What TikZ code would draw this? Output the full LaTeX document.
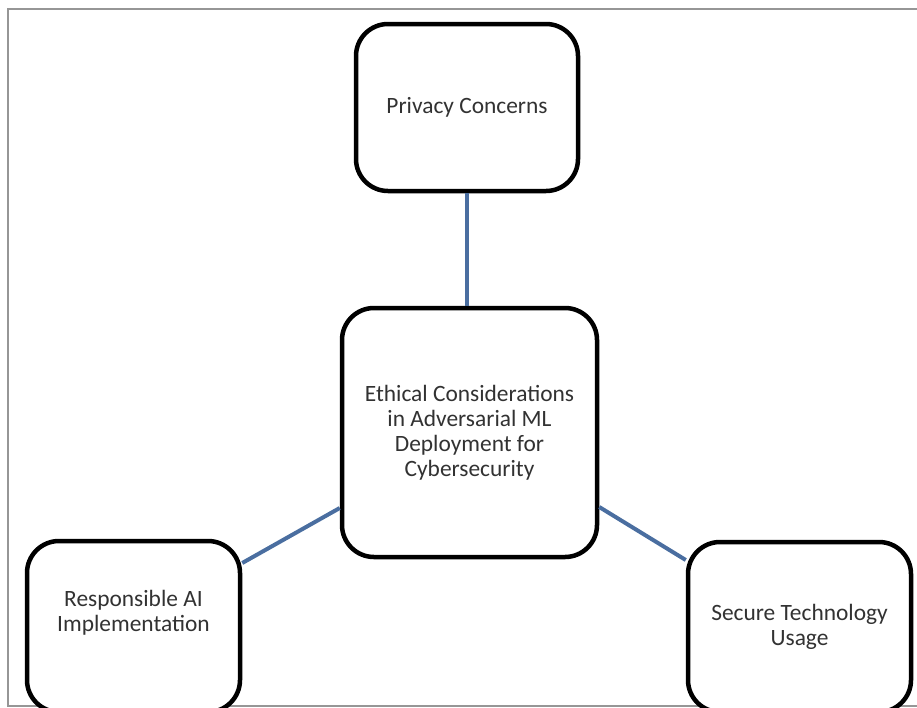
\documentclass[tikz,border=0pt]{standalone}
\usepackage{fontspec}
\setmainfont{Carlito}
\usepackage{tikz}
\usetikzlibrary{positioning}

\definecolor{linkblue}{RGB}{74,110,160}
\definecolor{inkgray}{RGB}{50,50,50}
\definecolor{framegray}{RGB}{150,150,150}

\tikzset{
  card/.style={draw=black, line width=4.5pt, rounded corners=32pt, fill=white,
    align=center, text=inkgray, font=\fontsize{23.4}{25}\selectfont, inner sep=0pt},
  link/.style={draw=linkblue, line width=4pt},
  frameline/.style={draw=framegray, line width=2pt}
}

\begin{document}
\begin{tikzpicture}[x=1pt,y=-1pt]
\useasboundingbox (0,0) rectangle (917,707);
\clip (0,0) rectangle (917,707);
\draw[frameline] (917,8.5) -- (7.5,8.5) -- (7.5,705.5) -- (917,705.5);

\node[card, minimum width=222pt, minimum height=167pt] (privacy) at (467,107.5) {Privacy Concerns};
\node[card, minimum width=255pt, minimum height=249pt] (core) at (469.5,432.5)
  {Ethical Considerations\\in Adversarial ML\\Deployment for\\Cybersecurity};
\node[card, minimum width=213pt, minimum height=171pt,
  label={[card, draw=none, fill=none, yshift=13.5pt]center:Responsible AI\\Implementation}] (responsible) at (133.5,626.5) {};
\node[card, minimum width=223pt, minimum height=170pt] (secure) at (799.5,627)
  {Secure Technology\\Usage};

\draw[link] (privacy.south) -- (privacy.south |- core.north);
\draw[link] ([yshift=-75.5pt]core.west) -- ([yshift=63.5pt]responsible.east);
\draw[link] ([yshift=-74.5pt]core.east) -- ([yshift=67pt]secure.west);
\end{tikzpicture}
\end{document}
